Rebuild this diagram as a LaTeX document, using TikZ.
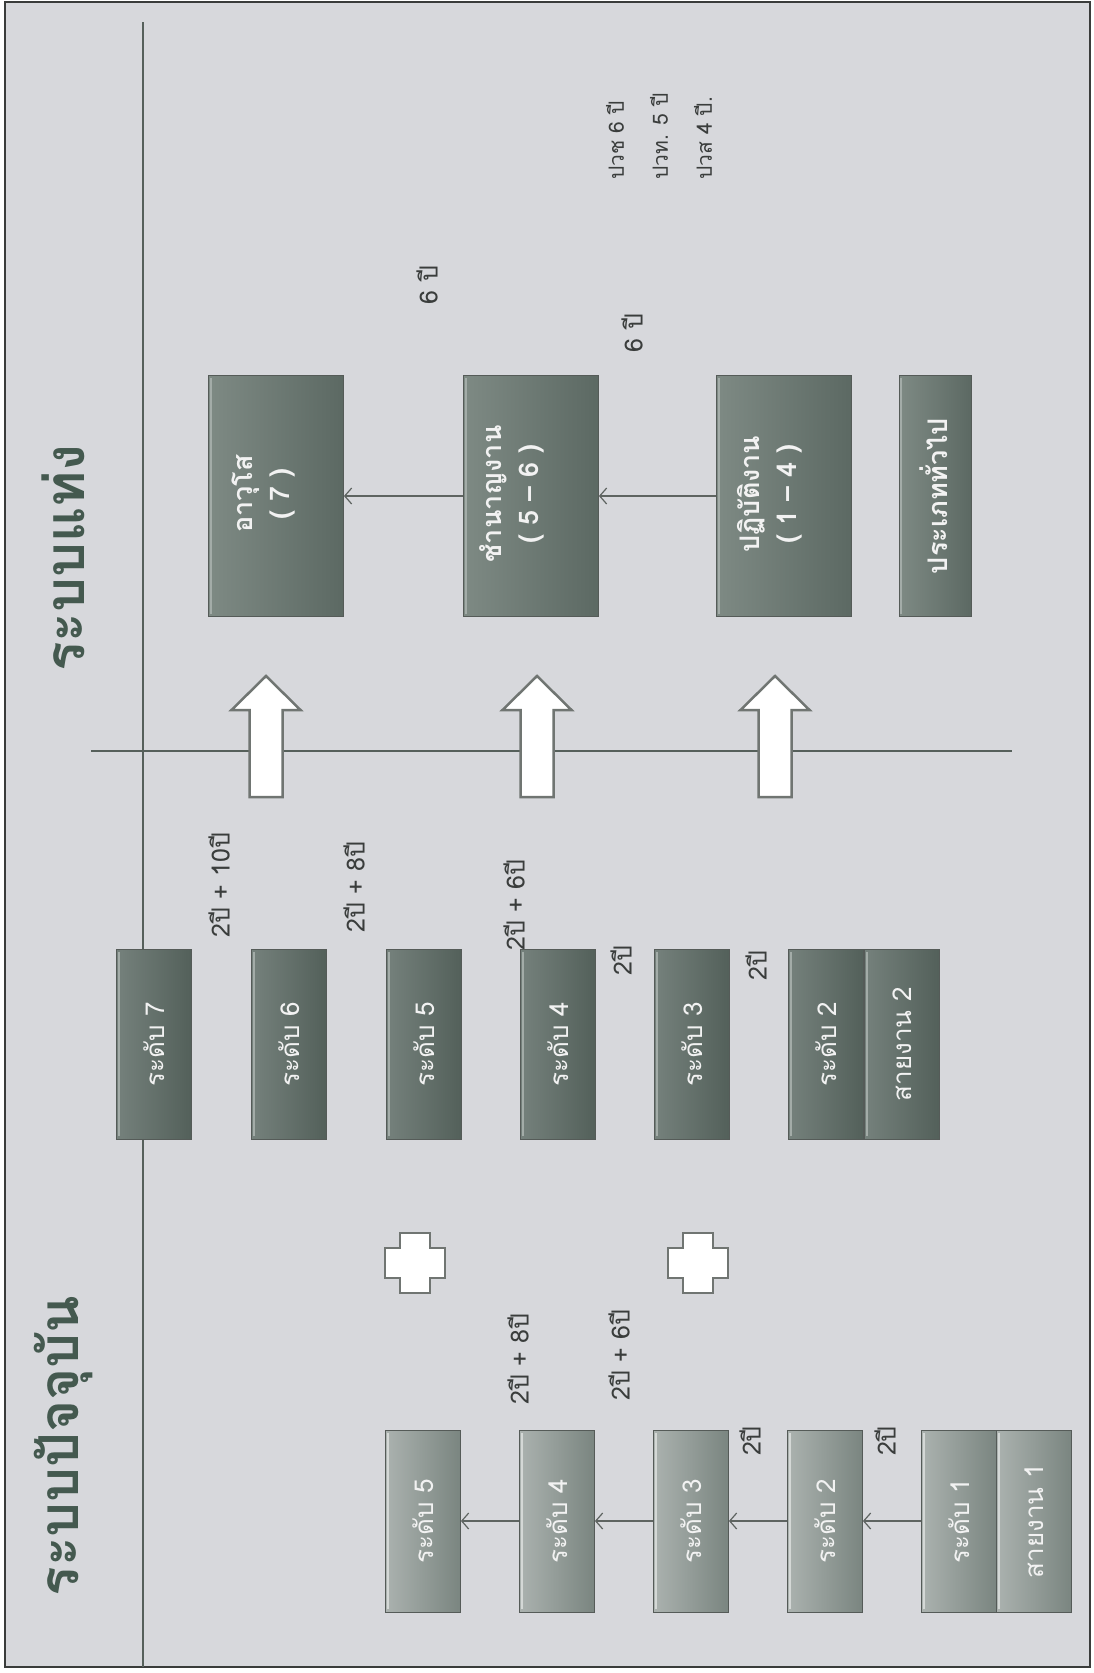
\documentclass[tikz,border=0pt]{standalone}
\usepackage{fontspec}
\newfontfamily\thai[Script=Thai]{Loma}
\usetikzlibrary{arrows.meta}
\definecolor{bg}{HTML}{D7D8DC}
\definecolor{framec}{HTML}{3A3C3B}
\definecolor{titlec}{HTML}{44594F}
\definecolor{linec}{HTML}{56605B}
\definecolor{lboxl}{HTML}{ABB2AF}
\definecolor{lboxr}{HTML}{7A8580}
\definecolor{dboxl}{HTML}{75817C}
\definecolor{dboxr}{HTML}{53605A}
\definecolor{rboxl}{HTML}{7E8A84}
\definecolor{rboxr}{HTML}{5C6963}
\definecolor{boxd}{HTML}{555B58}
\definecolor{boxtext}{HTML}{F2F2F2}
\definecolor{labc}{HTML}{3A3D3C}
\definecolor{connc}{HTML}{5E6461}
\definecolor{arrowc}{HTML}{707572}
\definecolor{lhi}{HTML}{D4D8D6}
\definecolor{dhi}{HTML}{A3ACA8}
\begin{document}
\begin{tikzpicture}[x=1pt,y=-1pt,font=\thai,
  boxbase/.style={rotate=90, draw=boxd, line width=0.8pt, inner sep=0pt, text=boxtext, align=center},
  lbox/.style={boxbase, left color=lboxl, right color=lboxr, minimum width=182pt, minimum height=75pt, font=\thai\fontsize{26}{30}\selectfont},
  mbox/.style={boxbase, left color=dboxl, right color=dboxr, minimum width=190pt, minimum height=75pt, font=\thai\fontsize{26}{30}\selectfont},
  rbox/.style={boxbase, left color=rboxl, right color=rboxr, minimum width=241pt, minimum height=135pt},
  rtext/.style={rotate=90, text=boxtext, align=center, inner sep=0pt, font=\thai\bfseries\fontsize{27}{37}\selectfont},
  lab/.style={rotate=90, text=labc, inner sep=0pt, font=\thai\fontsize{25}{30}\selectfont},
  title/.style={rotate=90, text=titlec, inner sep=0pt, font=\thai\bfseries\fontsize{55}{62}\selectfont},
  conn/.style={draw=connc, line width=1.2pt, -{Straight Barb[length=7pt,width=16pt]}},
  sep/.style={draw=linec, line width=1.2pt},
  blockarrow/.style={fill=white, draw=arrowc, line width=2.5pt, line join=miter},
  hilite/.style={draw=lhi, line width=2pt},
]
\useasboundingbox (0,0) rectangle (1094,1673);
\fill[white] (0,0) rectangle (1094,1673);
\draw[fill=bg, draw=framec, line width=2.5pt] (5,2) rectangle (1090,1667);

% separator lines
\draw[sep] (143,22) -- (143,1667);
\draw[sep] (91,751) -- (1012,751);

% titles
\node[title] (t1) at (63,1446) {ระบบปัจจุบัน};
\node[title] (t2) at (63,558) {ระบบแท่ง};

% ---- current system (left) ----
\node[lab] (l48) at (518,1359) {2ปี + 8ปี};
\node[lab] (l46) at (619,1355) {2ปี + 6ปี};
\node[lab] (l2a) at (750,1441) {2ปี};
\node[lab] (l2b) at (885,1441) {2ปี};
\node[lbox] (c5) at (423,1521) {ระดับ 5};
\node[lbox] (c4) at (557,1521) {ระดับ 4};
\node[lbox] (c3) at (691,1521) {ระดับ 3};
\node[lbox] (c2) at (825,1521) {ระดับ 2};
\node[lbox] (c1) at (959,1521) {ระดับ 1};
\node[lbox] (cs1) at (1034,1521) {สายงาน 1};
\foreach \n in {c5,c4,c3,c2,c1,cs1}{
  \draw[hilite] ([xshift=2.5pt,yshift=3pt]\n.north west) -- ([xshift=2.5pt,yshift=-3pt]\n.north east);
}
\draw[conn] (c1) -- (c2);
\draw[conn] (c2) -- (c3);
\draw[conn] (c3) -- (c4);
\draw[conn] (c4) -- (c5);

% plus signs
\foreach \px in {415,698}{
  \draw[blockarrow] (\px-15,1233) -- (\px+15,1233) -- (\px+15,1248) -- (\px+30,1248) -- (\px+30,1278) -- (\px+15,1278) -- (\px+15,1293) -- (\px-15,1293) -- (\px-15,1278) -- (\px-30,1278) -- (\px-30,1248) -- (\px-15,1248) -- cycle;
}

% ---- middle column ----
\node[lab] (m210) at (219,885) {2ปี + 10ปี};
\node[lab] (m28) at (354,887) {2ปี + 8ปี};
\begin{scope}
  \clip (480,700) rectangle (600,949);
  \node[lab] (m26) at (514,905) {2ปี + 6ปี};
\end{scope}
\node[lab] (m2a) at (621,961) {2ปี};
\node[lab] (m2b) at (756,966) {2ปี};
\node[mbox] (m7) at (154,1044) {ระดับ 7};
\node[mbox] (m6) at (289,1044) {ระดับ 6};
\node[mbox] (m5) at (424,1044) {ระดับ 5};
\node[mbox] (m4) at (558,1044) {ระดับ 4};
\node[mbox] (m3) at (692,1044) {ระดับ 3};
\node[mbox] (m2) at (826,1044) {ระดับ 2};
\node[mbox] (ms2) at (902,1044) {สายงาน 2};
\foreach \n in {m7,m6,m5,m4,m3,m2,ms2}{
  \draw[hilite, draw=dhi] ([xshift=2.5pt,yshift=3pt]\n.north west) -- ([xshift=2.5pt,yshift=-3pt]\n.north east);
}

% block arrows
\foreach \cx in {266,537,775}{
  \draw[blockarrow] (\cx-16.5,797) -- (\cx-16.5,710) -- (\cx-34.5,710) -- (\cx,676) -- (\cx+34.5,710) -- (\cx+16.5,710) -- (\cx+16.5,797) -- cycle;
}

% ---- broadband system (right) ----
\node[rbox] (r7) at (276,496) {};
\node[rbox] (r56) at (531,496) {};
\node[rbox] (r14) at (784,496) {};
\node[rbox, minimum height=72pt] (rg) at (935,496) {};
\foreach \n in {r7,r56,r14,rg}{
  \draw[hilite, draw=dhi] ([xshift=2.5pt,yshift=3pt]\n.north west) -- ([xshift=2.5pt,yshift=-3pt]\n.north east);
}
\node[rtext] (r7t) at (264,494) {อาวุโส\\( 7 )};
\node[rtext] (r56t) at (512,494) {ชำนาญงาน\\( 5 – 6 )};
\node[rtext] (r14t) at (770,494) {ปฏิบัติงาน\\( 1 – 4 )};
\node[rtext] (rgt) at (934,496) {ประเภททั่วไป};
\draw[conn] (r14) -- (r56);
\draw[conn] (r56) -- (r7);

\node[lab] (r6a) at (427,285) {6 ปี};
\node[lab] (r6b) at (632,333) {6 ปี};
\node[lab, anchor=west, align=left, font=\thai\fontsize{21}{44}\selectfont] (edu) at (659,180) {ปวช 6 ปี\\ปวท. 5 ปี\\ปวส 4 ปี.};
\end{tikzpicture}
\end{document}
